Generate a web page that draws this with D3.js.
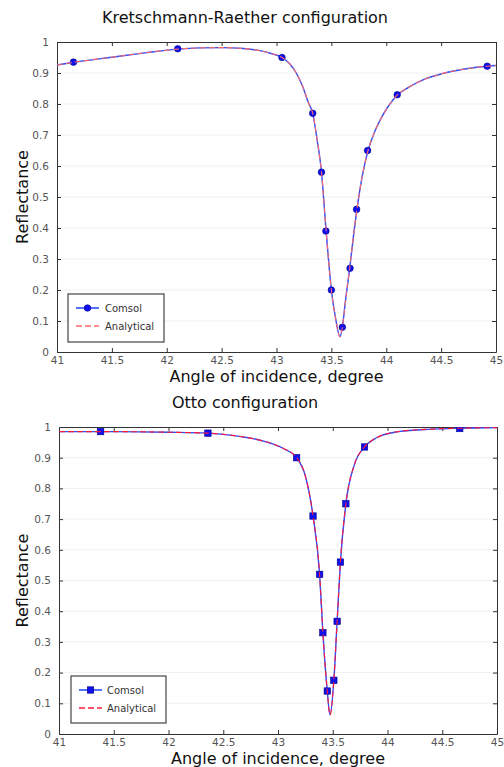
<!DOCTYPE html>
<html><head><meta charset="utf-8">
<script src="https://cdn.jsdelivr.net/npm/d3@7"></script>
<style>body{margin:0;background:#fff}svg{display:block}</style>
</head><body>
<script>
// ---- Data ----
const xTicks = [41, 41.5, 42, 42.5, 43, 43.5, 44, 44.5, 45];
const xTickLabels = ["41", "41.5", "42", "42.5", "43", "43.5", "44", "44.5", "45"];
const yTicks = [0, 0.1, 0.2, 0.3, 0.4, 0.5, 0.6, 0.7, 0.8, 0.9, 1];
const yTickLabels = ["0", "0.1", "0.2", "0.3", "0.4", "0.5", "0.6", "0.7", "0.8", "0.9", "1"];
const titles = ["Kretschmann-Raether configuration", "Otto configuration"];
const xLabel = "Angle of incidence, degree";
const yLabel = "Reflectance";
const legendNames = ["Comsol", "Analytical"];

// Kretschmann-Raether: Comsol markers
const krComsolAngle = [41.15, 42.10, 43.05, 43.33, 43.41, 43.45, 43.50, 43.60, 43.67, 43.73, 43.83, 44.10, 44.92];
const krComsolR     = [0.935, 0.978, 0.950, 0.770, 0.580, 0.390, 0.200, 0.080, 0.270, 0.460, 0.650, 0.830, 0.922];
// Kretschmann-Raether: curve
const krCurveAngle = [41.0, 41.2, 41.5, 41.8, 42.1, 42.3, 42.5, 42.7, 42.85, 42.95, 43.05, 43.12, 43.18, 43.24, 43.29, 43.33, 43.37, 43.41, 43.45, 43.50, 43.54, 43.578, 43.60, 43.63, 43.667, 43.70, 43.733, 43.78, 43.834, 43.9, 43.97, 44.05, 44.104, 44.2, 44.35, 44.5, 44.7, 44.924, 45.0];
const krCurveR     = [0.926, 0.937, 0.951, 0.965, 0.977, 0.981, 0.982, 0.979, 0.972, 0.963, 0.950, 0.930, 0.900, 0.855, 0.805, 0.770, 0.685, 0.580, 0.400, 0.200, 0.105, 0.049, 0.080, 0.170, 0.270, 0.370, 0.460, 0.565, 0.650, 0.715, 0.765, 0.808, 0.830, 0.853, 0.880, 0.897, 0.912, 0.922, 0.924];

// Otto: Comsol markers
const ottoComsolAngle = [41.38, 42.36, 43.17, 43.32, 43.38, 43.41, 43.45, 43.51, 43.54, 43.57, 43.62, 43.79, 44.66];
const ottoComsolR     = [0.985, 0.980, 0.900, 0.710, 0.520, 0.330, 0.140, 0.175, 0.367, 0.560, 0.750, 0.935, 0.995];
// Otto: curve
const ottoCurveAngle = [41.0, 41.5, 42.0, 42.36, 42.6, 42.8, 42.95, 43.05, 43.17, 43.25, 43.32, 43.38, 43.41, 43.45, 43.475, 43.51, 43.54, 43.57, 43.62, 43.70, 43.79, 43.9, 44.1, 44.4, 44.66, 45.0];
const ottoCurveR     = [0.985, 0.985, 0.983, 0.980, 0.972, 0.960, 0.945, 0.930, 0.900, 0.840, 0.710, 0.520, 0.330, 0.140, 0.062, 0.175, 0.367, 0.560, 0.750, 0.880, 0.935, 0.965, 0.985, 0.993, 0.996, 0.998];

// ---- Layout ----
const W = 504, H = 767;
const svg = d3.select("body").append("svg").attr("width", W).attr("height", H)
  .style("font-family", "DejaVu Sans, sans-serif");

const panels = [
  { title: titles[0], titleY: 23, left: 57, right: 496, top: 42, bottom: 352, xLabelY: 382,
    mAngle: krComsolAngle, mR: krComsolR, cAngle: krCurveAngle, cR: krCurveR, marker: "circle",
    redColor: "#ff6a6a", blueColor: "#2a4dff",
    legend: { x: 68, y: 294, w: 96, h: 48, row1: 308, row2: 326, lx0: 76, lx1: 99, tx: 105 } },
  { title: titles[1], titleY: 408, left: 59, right: 497, top: 427, bottom: 734, xLabelY: 764,
    mAngle: ottoComsolAngle, mR: ottoComsolR, cAngle: ottoCurveAngle, cR: ottoCurveR, marker: "square",
    redColor: "#ff1a3c", blueColor: "#2a4dff",
    legend: { x: 71, y: 676, w: 95, h: 47, row1: 690, row2: 708, lx0: 79, lx1: 102, tx: 107 } }
];

panels.forEach(p => {
  const x = d3.scaleLinear().domain([41, 45]).range([p.left, p.right]);
  const y = d3.scaleLinear().domain([0, 1]).range([p.bottom, p.top]);
  const g = svg.append("g");

  // faint grid
  g.append("g").selectAll("line").data(yTicks.slice(1, -1)).join("line")
    .attr("x1", p.left).attr("x2", p.right)
    .attr("y1", d => y(d)).attr("y2", d => y(d))
    .attr("stroke", "#f1f1f1").attr("stroke-width", 1);

  // axes
  const xAxisB = d3.axisBottom(x).tickValues(xTicks).tickFormat((d, i) => xTickLabels[i]).tickSizeInner(-4).tickSizeOuter(0).tickPadding(5);
  const xAxisT = d3.axisTop(x).tickValues(xTicks).tickFormat("").tickSizeInner(-4).tickSizeOuter(0);
  const yAxisL = d3.axisLeft(y).tickValues(yTicks).tickFormat((d, i) => yTickLabels[i]).tickSizeInner(-4).tickSizeOuter(0).tickPadding(8);
  const yAxisR = d3.axisRight(y).tickValues(yTicks).tickFormat("").tickSizeInner(-4).tickSizeOuter(0);

  const styleAxis = sel => {
    sel.selectAll("path").attr("stroke", "#333");
    sel.selectAll("line").attr("stroke", "#333");
    sel.selectAll("text").attr("fill", "#555").style("font-size", "10.5px").style("font-family", "DejaVu Sans, sans-serif");
  };
  g.append("g").attr("transform", `translate(0,${p.bottom})`).call(xAxisB).call(styleAxis);
  g.append("g").attr("transform", `translate(0,${p.top})`).call(xAxisT).call(styleAxis);
  g.append("g").attr("transform", `translate(${p.left},0)`).call(yAxisL).call(styleAxis);
  g.append("g").attr("transform", `translate(${p.right},0)`).call(yAxisR).call(styleAxis);

  // curves
  const pts = p.cAngle.map((a, i) => [a, p.cR[i]]);
  const line = d3.line().x(d => x(d[0])).y(d => y(d[1])).curve(d3.curveMonotoneX);
  const clip = "clip" + p.top;
  svg.append("clipPath").attr("id", clip).append("rect")
    .attr("x", p.left).attr("y", p.top).attr("width", p.right - p.left).attr("height", p.bottom - p.top);
  const plot = g.append("g").attr("clip-path", `url(#${clip})`);
  plot.append("path").datum(pts).attr("d", line).attr("fill", "none")
    .attr("stroke", p.blueColor).attr("stroke-width", 1.4);

  const mk = p.mAngle.map((a, i) => [a, p.mR[i]]);
  if (p.marker === "circle") {
    plot.selectAll("circle.m").data(mk).join("circle").attr("class", "m")
      .attr("cx", d => x(d[0])).attr("cy", d => y(d[1])).attr("r", 3.3)
      .attr("fill", "#1010ee").attr("stroke", "#000088").attr("stroke-width", 0.6);
  } else {
    plot.selectAll("rect.m").data(mk).join("rect").attr("class", "m")
      .attr("x", d => x(d[0]) - 3.2).attr("y", d => y(d[1]) - 3.2).attr("width", 6.4).attr("height", 6.4)
      .attr("fill", "#1010ee").attr("stroke", "#000088").attr("stroke-width", 0.6);
  }
  plot.append("path").datum(pts).attr("d", line).attr("fill", "none")
    .attr("stroke", p.redColor).attr("stroke-width", 1.1).attr("stroke-dasharray", "6,3");

  // titles & labels
  svg.append("text").attr("x", 245).attr("y", p.titleY).attr("text-anchor", "middle")
    .style("font-size", "16px").attr("fill", "#111").text(p.title);
  svg.append("text").attr("x", (p.left + p.right) / 2).attr("y", p.xLabelY).attr("text-anchor", "middle")
    .style("font-size", "16px").attr("fill", "#111").text(xLabel);
  svg.append("text").attr("transform", `translate(${28},${(p.top + p.bottom) / 2}) rotate(-90)`)
    .attr("text-anchor", "middle").style("font-size", "16px").attr("fill", "#111").text(yLabel);

  // legend
  const L = p.legend;
  svg.append("rect").attr("x", L.x).attr("y", L.y).attr("width", L.w).attr("height", L.h)
    .attr("fill", "#fff").attr("stroke", "#444").attr("stroke-width", 1.2);
  svg.append("line").attr("x1", L.lx0).attr("x2", L.lx1).attr("y1", L.row1).attr("y2", L.row1)
    .attr("stroke", p.blueColor).attr("stroke-width", 1.6);
  const mx = (L.lx0 + L.lx1) / 2;
  if (p.marker === "circle") {
    svg.append("circle").attr("cx", mx).attr("cy", L.row1).attr("r", 3.3).attr("fill", "#1010ee").attr("stroke", "#000088").attr("stroke-width", 0.6);
  } else {
    svg.append("rect").attr("x", mx - 3.2).attr("y", L.row1 - 3.2).attr("width", 6.4).attr("height", 6.4).attr("fill", "#1010ee").attr("stroke", "#000088").attr("stroke-width", 0.6);
  }
  svg.append("text").attr("x", L.tx).attr("y", L.row1 + 4).style("font-size", "10px").attr("fill", "#333").text(legendNames[0]);
  svg.append("line").attr("x1", L.lx0).attr("x2", L.lx1).attr("y1", L.row2).attr("y2", L.row2)
    .attr("stroke", p.redColor).attr("stroke-width", 1.3).attr("stroke-dasharray", "6,3");
  svg.append("text").attr("x", L.tx).attr("y", L.row2 + 4).style("font-size", "10px").attr("fill", "#333").text(legendNames[1]);
});
</script>
</body></html>
